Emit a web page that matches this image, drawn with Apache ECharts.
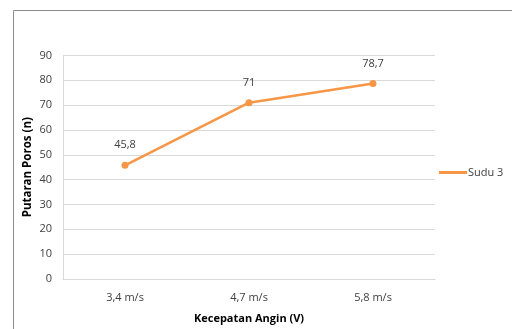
<!DOCTYPE html>
<html><head><meta charset="utf-8">
<script src="https://cdn.jsdelivr.net/npm/echarts@6/dist/echarts.min.js"></script>
<style>html,body{margin:0;padding:0;background:#fff}#c{width:512px;height:329px}</style>
</head><body><div id="c"></div>
<script>
const categories = ['3,4 m/s', '4,7 m/s', '5,8 m/s'];
const sudu3 = [45.8, 71, 78.7];
const yTicks = [0, 10, 20, 30, 40, 50, 60, 70, 80, 90];
const seriesName = 'Sudu 3';
const xTitle = 'Kecepatan Angin (V)';
const yTitle = 'Putaran Poros (n)';

const font = 'Open Sans';
const chart = echarts.init(document.getElementById('c'));
chart.setOption({
  animation: false,
  textStyle: { fontFamily: font },
  graphic: [{ type: 'rect', shape: { x: 13.5, y: 10.5, width: 520, height: 340 }, style: { fill: 'none', stroke: '#8c8c8c', lineWidth: 1 }, silent: true }],
  grid: { left: 63, right: 77, top: 55.5, bottom: 48 },
  legend: {
    data: [{ name: seriesName, icon: 'rect' }],
    orient: 'vertical', left: 439, top: 167, padding: 0,
    itemWidth: 28, itemHeight: 3, itemGap: 2,
    textStyle: { fontFamily: font, fontSize: 11, color: '#404040', padding: [0, 0, 0, -4] }
  },
  xAxis: {
    type: 'category', data: categories, boundaryGap: true,
    name: xTitle, nameLocation: 'middle', nameGap: 34, nameMoveOverlap: false,
    nameTextStyle: { fontFamily: font, fontSize: 11, fontWeight: 'bold', color: '#000' },
    axisLine: { lineStyle: { color: '#d9d9d9', width: 1 } },
    axisTick: { show: false },
    axisLabel: { fontFamily: font, fontSize: 11, color: '#404040', margin: 13 }
  },
  yAxis: {
    type: 'value', min: yTicks[0], max: yTicks[yTicks.length - 1], interval: 10,
    name: yTitle, nameLocation: 'middle', nameGap: 29, nameMoveOverlap: false,
    nameTextStyle: { fontFamily: font, fontSize: 11.5, fontWeight: 'bold', color: '#000' },
    axisLine: { show: true, lineStyle: { color: '#d9d9d9' } },
    axisTick: { show: false },
    splitLine: { lineStyle: { color: '#d9d9d9', width: 1 } },
    axisLabel: { fontFamily: font, fontSize: 11, color: '#404040', margin: 11 }
  },
  series: [{
    name: seriesName, type: 'line', data: sudu3,
    symbol: 'circle', symbolSize: 7,
    lineStyle: { color: '#f79646', width: 2.5 },
    itemStyle: { color: '#f79646' },
    label: {
      show: true, position: 'top', distance: 11,
      fontFamily: font, fontSize: 11, color: '#404040',
      formatter: p => String(p.value).replace('.', ',')
    }
  }]
});
</script></body></html>
